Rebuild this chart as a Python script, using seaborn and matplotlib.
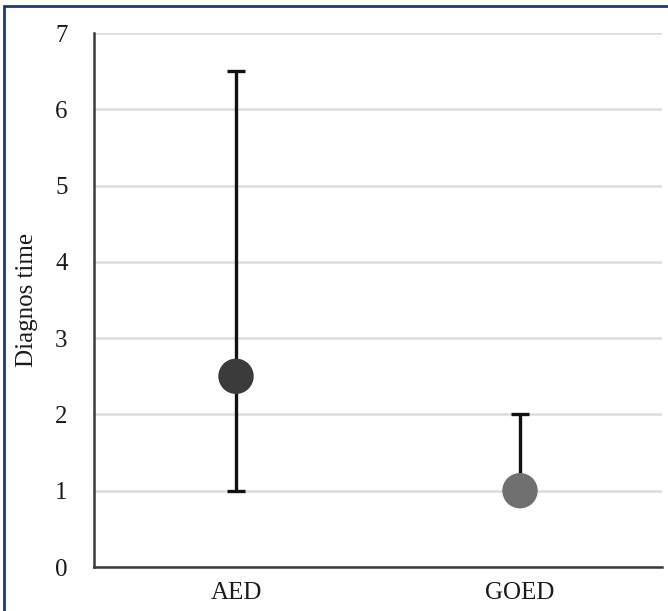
import matplotlib
matplotlib.use("Agg")
import matplotlib.pyplot as plt
import seaborn as sns
import pandas as pd
import numpy as np
from matplotlib.patches import Rectangle

groups = ["AED", "GOED"]
medians = [2.5, 1.0]
range_low = [1.0, 1.0]
range_high = [6.5, 2.0]
marker_colors = ["#3b3b3b", "#707070"]
yticks = [0, 1, 2, 3, 4, 5, 6, 7]

sns.set_theme(style="white")
plt.rcParams["font.family"] = ["Liberation Serif", "DejaVu Serif"]

df = pd.DataFrame({"group": groups, "median": medians})

fig = plt.figure(figsize=(6.68, 6.11), dpi=100)
ax = fig.add_axes([94/668, 44/611, 568/668, 534/611])

x = np.arange(len(groups))
low = np.array(medians) - np.array(range_low)
high = np.array(range_high) - np.array(medians)
ax.errorbar(x, medians, yerr=[low, high], fmt="none", ecolor="#111111",
            elinewidth=2.4, capsize=6.5, capthick=2.4, zorder=3)

sns.scatterplot(data=df, x="group", y="median", hue="group",
                palette=dict(zip(groups, marker_colors)), s=650,
                edgecolor="none", legend=False, ax=ax, zorder=4)

ax.set_xlim(-0.5, 1.5)
ax.set_ylim(0, 7)
ax.set_yticks(yticks)
ax.set_yticklabels([str(t) for t in yticks])
ax.yaxis.grid(True, color="#dcdcdc", linewidth=1.8)
ax.xaxis.grid(False)
ax.set_axisbelow(True)
for s in ["top", "right"]:
    ax.spines[s].set_visible(False)
for s in ["left", "bottom"]:
    ax.spines[s].set_color("#3a3a3a")
    ax.spines[s].set_linewidth(1.8)
ax.tick_params(axis="y", length=0, pad=19, labelsize=18, labelcolor="#1a1a1a")
ax.tick_params(axis="x", length=0, pad=11, labelsize=18, labelcolor="#1a1a1a")
ax.set_xlabel("")
ax.set_ylabel("Diagnos time", fontsize=18, color="#1a1a1a")
ax.yaxis.set_label_coords(-56/568, 0.5)

border = Rectangle((4/668, -0.1), 2.0, 1.1 - 6/611, transform=fig.transFigure,
                   fill=False, edgecolor="#1f3a6e", linewidth=2.0, clip_on=False)
fig.patches.append(border)

fig.savefig("out.png", dpi=100)
